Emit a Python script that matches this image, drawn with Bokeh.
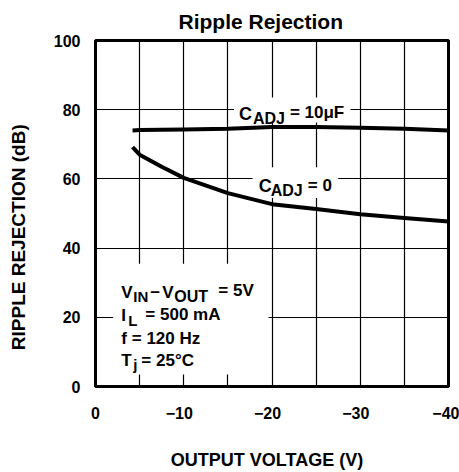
from bokeh.plotting import figure
from bokeh.models import Range1d, FixedTicker, Label, BoxAnnotation
from bokeh.embed import file_html
from bokeh.resources import INLINE

# ---- data ----
v_out = [-4.2, -5, -7.5, -10, -15, -20, -25, -30, -35, -40]
rej_cadj_10uf = [74.0, 74.1, 74.2, 74.3, 74.5, 75.0, 75.0, 74.8, 74.5, 74.0]
rej_cadj_0 = [69.2, 67.0, 63.5, 60.3, 55.9, 52.7, 51.3, 49.8, 48.7, 47.7]

x_ticks = [0, -10, -20, -30, -40]
x_tick_labels = ["0", "\u221210\u2007", "\u221220\u2007", "\u221230\u2007", "\u221240"]
y_ticks = [0, 20, 40, 60, 80, 100]
x_grid = [-5, -10, -15, -20, -25, -30, -35]
y_grid = [20, 40, 60, 80]
title_text = "Ripple Rejection"

FONT = "Liberation Sans"
NB = "\u00a0"

p = figure(width=459, height=472, x_range=Range1d(0, -40), y_range=Range1d(0, 100),
           output_backend="svg", toolbar_location=None,
           min_border_left=95, min_border_right=11, min_border_top=39, min_border_bottom=84,
           title=title_text)
p.background_fill_color = "white"
p.border_fill_color = "white"
p.outline_line_color = "black"
p.outline_line_width = 3

p.title.text_font = FONT
p.title.text_font_style = "bold"
p.title.text_font_size = "21px"
p.title.align = "left"
p.title.vertical_align = "bottom"
p.title.offset = 83
p.title.standoff = 15
p.title.text_color = "black"

for ax in (p.xaxis[0], p.yaxis[0]):
    ax.axis_line_color = None
    ax.major_tick_line_color = None
    ax.minor_tick_line_color = None
    ax.major_tick_out = 0
    ax.major_tick_in = 0
    ax.minor_tick_out = 0
    ax.minor_tick_in = 0
    ax.major_label_text_font = FONT
    ax.major_label_text_font_style = "bold"
    ax.major_label_text_font_size = "16px"
    ax.major_label_text_color = "black"
    ax.axis_label_text_font = FONT
    ax.axis_label_text_font_style = "bold"
    ax.axis_label_text_color = "black"

p.xaxis.ticker = FixedTicker(ticks=x_ticks)
p.xaxis.major_label_overrides = {t: l for t, l in zip(x_ticks, x_tick_labels)}
p.xaxis.major_label_standoff = 18
p.xaxis.axis_label = "OUTPUT VOLTAGE (V)" + NB * 2
p.xaxis.axis_label_text_font_size = "18px"
p.xaxis.axis_label_standoff = 25

p.yaxis.ticker = FixedTicker(ticks=y_ticks)
p.yaxis.major_label_standoff = 15
p.yaxis.axis_label = "RIPPLE REJECTION (dB)" + NB * 9
p.yaxis.axis_label_text_font_size = "19px"
p.yaxis.axis_label_standoff = 22

p.xgrid.ticker = FixedTicker(ticks=x_grid)
p.ygrid.ticker = FixedTicker(ticks=y_grid)
for g in (p.xgrid[0], p.ygrid[0]):
    g.grid_line_color = "black"
    g.grid_line_width = 1.2
    g.grid_line_alpha = 1.0

# white knock-out areas behind the in-plot texts
for (l, r, b, t) in [(-2.0, -19.6, 3.5, 35.5), (-15.7, -28.9, 76.3, 83.5), (-17.8, -27.5, 54.5, 63.4)]:
    p.add_layout(BoxAnnotation(left=l, right=r, bottom=b, top=t, fill_color="white", fill_alpha=1.0,
                               line_color=None, level="underlay"))

p.line(v_out, rej_cadj_10uf, line_color="black", line_width=4, line_join="round")
p.line(v_out, rej_cadj_0, line_color="black", line_width=4, line_join="round")


def add_text(x, y, pieces):
    for txt, dx, dy, size in pieces:
        p.add_layout(Label(x=x, y=y, text=txt, x_offset=dx, y_offset=dy,
                           text_font=FONT, text_font_style="bold", text_font_size=f"{size}px",
                           text_color="black", text_align="left", text_baseline="alphabetic"))


add_text(-16.25, 78.9, [("C", 0, 0, 18), ("ADJ", 14, -5, 16), ("= 10\u03bcF", 51, 1, 17)])
add_text(-18.5, 58.0, [("C", 0, 0, 18), ("ADJ", 12, -5, 16), ("= 0", 49, 0, 17)])

add_text(-2.93, 27.3, [("V", 0, 0, 17), ("IN", 12, -4, 15), ("\u2212", 29, 0, 17), ("V", 41, 0, 17),
                       ("OUT", 53, -4, 16), ("= 5V", 97, 2, 17)])
add_text(-2.93, 20.4, [("I", 0, 0, 17), ("L", 7, -5, 15), ("= 500 mA", 24, 1, 17)])
add_text(-2.93, 13.8, [("f = 120 Hz", 0, 0, 17)])
add_text(-2.93, 7.5, [("T", 0, 0, 17), ("j", 12, -4, 15), ("= 25\u00b0C", 20, 0, 17)])

open("out.html", "w").write(file_html(p, INLINE))
